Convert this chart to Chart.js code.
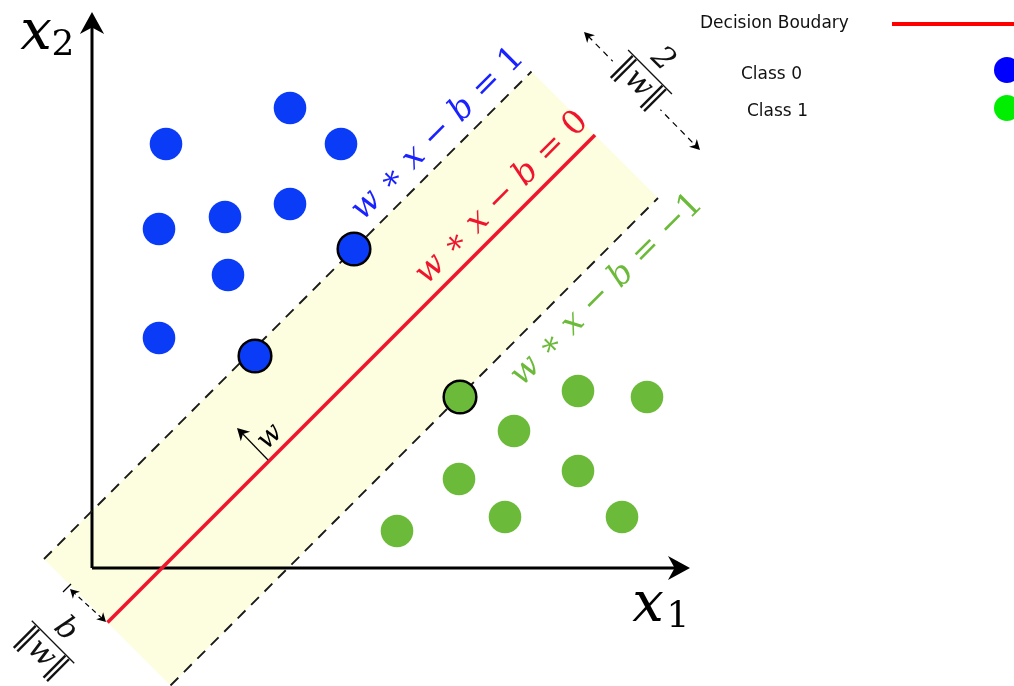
<!DOCTYPE html>
<html>
<head>
<meta charset="utf-8">
<script src="https://cdn.jsdelivr.net/npm/chart.js@4.4.0/dist/chart.umd.min.js"></script>
<style>
html, body { margin: 0; padding: 0; background: #fff; }
#wrap { width: 1014px; height: 686px; }
</style>
</head>
<body>
<div id="wrap"><canvas id="svm"></canvas></div>
<script>
// data space: origin at the axis corner, x1 to the right, x2 up
const class0X = [74, 198, 249, 67, 133, 198, 136, 67];
const class0Y = [424, 460, 424, 339, 351, 364, 293, 230];
const support0X = [262, 163];
const support0Y = [319, 212];
const class1X = [486, 555, 422, 367, 486, 413, 305, 530];
const class1Y = [177, 171, 137, 89, 97, 51, 37, 51];
const support1X = [368];
const support1Y = [171];

// w*x - b = 0, +1, -1
const boundaryX = [15.5, 503];
const boundaryY = [-54.5, 433];
const marginPlusX = [-48, 439.5];
const marginPlusY = [9, 496.5];
const marginMinusX = [78.5, 566];
const marginMinusY = [-117.5, 370];
const bandX = [-48, 439.5, 566, 78.5, -48];
const bandY = [9, 496.5, 370, -117.5, 9];

const axisX1 = [[0, 0], [594, 0]];
const axisX2 = [[0, 0], [0, 552]];

const pts = (xs, ys) => xs.map((x, i) => ({ x: x, y: ys[i] }));

const BLUE = '#0a3cf8';
const GREEN = '#6bba39';
const RED = '#f0142d';

function arrowHead(ctx, x, y, ang, size) {
    ctx.save();
    ctx.translate(x, y);
    ctx.rotate(ang);
    ctx.beginPath();
    ctx.moveTo(0, 0);
    ctx.lineTo(-size, -size * 0.55);
    ctx.lineTo(-size * 0.7, 0);
    ctx.lineTo(-size, size * 0.55);
    ctx.closePath();
    ctx.fill();
    ctx.restore();
}

// pieces: [text, italic]
function mathText(ctx, parts, x, y, ang, size, color) {
    ctx.save();
    ctx.translate(x, y);
    ctx.rotate(ang);
    ctx.fillStyle = color;
    ctx.textBaseline = 'middle';
    let total = 0;
    parts.forEach(p => {
        ctx.font = (p[1] ? 'italic ' : '') + size + 'px "DejaVu Serif"';
        total += ctx.measureText(p[0]).width;
    });
    let cx = -total / 2;
    parts.forEach(p => {
        ctx.font = (p[1] ? 'italic ' : '') + size + 'px "DejaVu Serif"';
        ctx.fillText(p[0], cx, 0);
        cx += ctx.measureText(p[0]).width;
    });
    ctx.restore();
}

function eq(rhs) {
    return [['w', true], [' \u2217 ', false], ['x', true], [' \u2212 ', false], ['b', true], [' = ' + rhs, false]];
}

function fraction(ctx, x, y, num, barLen, size) {
    ctx.save();
    ctx.translate(x, y);
    ctx.rotate(Math.PI / 4);
    ctx.fillStyle = '#111';
    ctx.strokeStyle = '#111';
    ctx.lineWidth = 1.3;
    ctx.beginPath();
    ctx.moveTo(-barLen / 2, 0);
    ctx.lineTo(barLen / 2, 0);
    ctx.stroke();
    ctx.textAlign = 'center';
    ctx.font = 'italic ' + size + 'px "DejaVu Serif"';
    ctx.textBaseline = 'bottom';
    ctx.fillText(num, 0, -2);
    ctx.textBaseline = 'top';
    ctx.fillText('\u2016w\u2016', 0, 1);
    ctx.restore();
}

const overlay = {
    id: 'overlay',
    afterDatasetsDraw(chart) {
        const ctx = chart.ctx;
        const sx = chart.scales.x, sy = chart.scales.y;
        const P = (x, y) => [sx.getPixelForValue(x), sy.getPixelForValue(y)];
        ctx.save();
        ctx.fillStyle = '#000';

        // axis arrow heads
        let t = P(axisX1[1][0], axisX1[1][1]);
        arrowHead(ctx, t[0] + 4, t[1], 0, 22);
        t = P(axisX2[1][0], axisX2[1][1]);
        arrowHead(ctx, t[0], t[1] - 4, -Math.PI / 2, 22);

        // axis labels
        let p = P(-56, 534);
        mathText(ctx, [['x', true]], p[0], p[1], 0, 56, '#000');
        p = P(-29, 522);
        mathText(ctx, [['2', false]], p[0], p[1], 0, 36, '#000');
        p = P(556, -38);
        mathText(ctx, [['x', true]], p[0], p[1], 0, 56, '#000');
        p = P(586, -50);
        mathText(ctx, [['1', false]], p[0], p[1], 0, 36, '#000');

        // line labels
        p = P(346, 434);
        mathText(ctx, eq('1'), p[0], p[1], -Math.PI / 4, 33, '#1a22ff');
        p = P(410, 370);
        mathText(ctx, eq('0'), p[0], p[1], -Math.PI / 4, 33, RED);
        p = P(515, 278);
        mathText(ctx, eq('\u22121'), p[0], p[1], -Math.PI / 4, 33, GREEN);

        // normal vector w
        ctx.strokeStyle = '#000';
        ctx.lineWidth = 1.2;
        let a = P(176, 108), b = P(147, 138);
        ctx.beginPath();
        ctx.moveTo(a[0], a[1]);
        ctx.lineTo(b[0], b[1]);
        ctx.stroke();
        arrowHead(ctx, b[0] - 2, b[1] - 2, -3 * Math.PI / 4, 12);
        p = P(178, 131);
        mathText(ctx, [['w', true]], p[0], p[1], -Math.PI / 4, 28, '#000');

        // margin width 2/||w||
        ctx.setLineDash([6, 5]);
        a = P(496, 532); b = P(604, 422);
        ctx.beginPath();
        ctx.moveTo(a[0], a[1]);
        ctx.lineTo(b[0], b[1]);
        ctx.stroke();
        ctx.setLineDash([]);
        arrowHead(ctx, a[0] - 4, a[1] - 4, -3 * Math.PI / 4, 10);
        arrowHead(ctx, b[0] + 4, b[1] + 4, Math.PI / 4, 10);
        p = P(558, 496);
        ctx.fillStyle = '#fff';
        ctx.save();
        ctx.translate(p[0], p[1]);
        ctx.rotate(Math.PI / 4);
        ctx.fillRect(-34, -34, 68, 70);
        ctx.restore();
        fraction(ctx, p[0], p[1], '2', 62, 31);

        // offset b/||w||
        ctx.fillStyle = '#000';
        a = P(-20, -23); b = P(13, -53);
        ctx.setLineDash([5, 4]);
        ctx.beginPath();
        ctx.moveTo(a[0], a[1]);
        ctx.lineTo(b[0], b[1]);
        ctx.stroke();
        ctx.setLineDash([]);
        arrowHead(ctx, a[0] - 2, a[1] - 2, -3 * Math.PI / 4, 9);
        arrowHead(ctx, b[0] + 1, b[1] + 1, Math.PI / 4, 9);
        a = P(-21, -16); b = P(-29, -24);
        ctx.beginPath();
        ctx.moveTo(a[0], a[1]);
        ctx.lineTo(b[0], b[1]);
        ctx.stroke();
        p = P(-39, -74);
        fraction(ctx, p[0], p[1], 'b', 60, 31);

        // legend
        ctx.font = '17px "DejaVu Sans"';
        ctx.fillStyle = '#111';
        ctx.textBaseline = 'middle';
        ctx.textAlign = 'left';
        ctx.fillText('Decision Boudary', 700, 24);
        ctx.fillText('Class 0', 741, 75);
        ctx.fillText('Class 1', 747, 112);
        ctx.strokeStyle = '#ff0000';
        ctx.lineWidth = 4;
        ctx.beginPath();
        ctx.moveTo(892, 24);
        ctx.lineTo(1014, 24);
        ctx.stroke();
        ctx.fillStyle = '#0000ff';
        ctx.beginPath();
        ctx.arc(1007, 70, 13, 0, Math.PI * 2);
        ctx.fill();
        ctx.fillStyle = '#00ee00';
        ctx.beginPath();
        ctx.arc(1007, 108, 13, 0, Math.PI * 2);
        ctx.fill();
        ctx.restore();
    }
};

const lineSet = (data, color, width, dash, order) => ({
    data: data,
    showLine: true,
    borderColor: color,
    borderWidth: width,
    borderDash: dash,
    pointRadius: 0,
    fill: false,
    order: order
});

const dotSet = (data, color, border, order) => ({
    data: data,
    showLine: false,
    pointRadius: 16.3,
    pointHoverRadius: 16.3,
    backgroundColor: color,
    borderColor: '#000',
    borderWidth: border,
    order: order
});

new Chart(document.getElementById('svm'), {
    type: 'scatter',
    data: {
        datasets: [
            dotSet(pts(class0X, class0Y), BLUE, 0, 0),
            dotSet(pts(support0X, support0Y), BLUE, 2.5, 0),
            dotSet(pts(class1X, class1Y), GREEN, 0, 0),
            dotSet(pts(support1X, support1Y), GREEN, 2.5, 0),
            lineSet(pts(boundaryX, boundaryY), RED, 3.5, [], 1),
            lineSet(pts(marginPlusX, marginPlusY), '#1a1a1a', 1.9, [11, 8], 2),
            lineSet(pts(marginMinusX, marginMinusY), '#1a1a1a', 1.9, [11, 8], 2),
            lineSet(axisX1.map(a => ({ x: a[0], y: a[1] })), '#000', 3, [], 3),
            lineSet(axisX2.map(a => ({ x: a[0], y: a[1] })), '#000', 3, [], 3),
            {
                data: pts(bandX, bandY),
                showLine: true,
                borderWidth: 0,
                pointRadius: 0,
                backgroundColor: '#fdfddf',
                fill: 'shape',
                order: 9
            }
        ]
    },
    options: {
        responsive: true,
        maintainAspectRatio: false,
        animation: false,
        layout: { padding: 0, autoPadding: false },
        plugins: {
            legend: { display: false },
            tooltip: { enabled: false }
        },
        scales: {
            x: { type: 'linear', display: false, min: -92, max: 922 },
            y: { type: 'linear', display: false, min: -118, max: 568 }
        }
    },
    plugins: [overlay]
});
</script>
</body>
</html>
